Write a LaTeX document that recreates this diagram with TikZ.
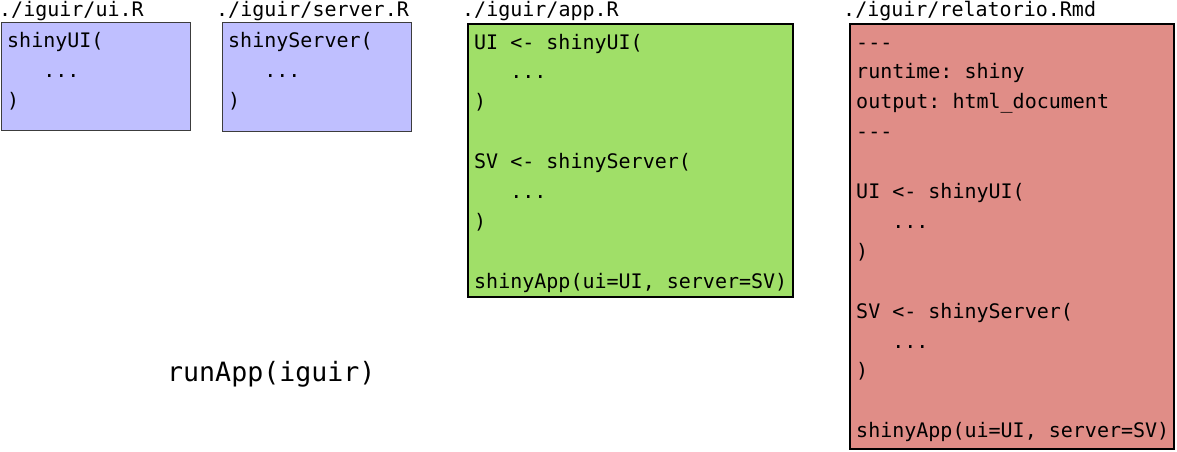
\documentclass[tikz,border=0pt]{standalone}
\usepackage{fontspec}
\setmonofont{DejaVu Sans Mono}
\definecolor{uiblue}{RGB}{191,191,255}
\definecolor{appgreen}{RGB}{160,223,104}
\definecolor{rmdred}{RGB}{224,141,135}
\definecolor{thinedge}{RGB}{60,60,60}
\newcommand\codesize{\ttfamily\fontsize{20}{29.9}\selectfont}
\newcommand\runsize{\ttfamily\fontsize{26.6}{32}\selectfont}
\newcommand\codeline[1]{\hbox{\strut #1}}
\tikzset{
  x=1pt, y=1pt,
  filebox/.style={anchor=north west, inner sep=0pt, outer sep=0pt},
  thinbox/.style={filebox, draw=thinedge, line width=1pt},
  thickbox/.style={filebox, draw=black, line width=2pt},
  code/.style={anchor=base west, inner sep=0pt, font=\codesize},
  filelabel/.style={anchor=base west, inner sep=0pt, font=\codesize},
}
\begin{document}
\begin{tikzpicture}
\useasboundingbox (0,0) rectangle (1177,-452);
% boxes
\node[thinbox, fill=uiblue, minimum width=189pt, minimum height=107pt] (ui) at (1,-23) {};
\node[thinbox, fill=uiblue, minimum width=189pt, minimum height=108pt] (server) at (222,-23) {};
\node[thickbox, fill=appgreen, minimum width=325pt, minimum height=273pt] (app) at (468,-24) {};
\node[thickbox, fill=rmdred, minimum width=324pt, minimum height=425pt] (rmd) at (850,-24) {};
% labels
\node[filelabel] (uilabel) at (-1,-17) {./iguir/ui.R};
\node[filelabel] (serverlabel) at (216,-17) {./iguir/server.R};
\node[filelabel] (applabel) at (462,-17) {./iguir/app.R};
\node[filelabel] (rmdlabel) at (843,-17) {./iguir/relatorio.Rmd};
% code
\node[code] (uicode) at (7,-48) {\vtop{%
  \codeline{shinyUI(}%
  \codeline{\ \ \ ...}%
  \codeline{)}}};
\node[code] (servercode) at (228,-48) {\vtop{%
  \codeline{shinyServer(}%
  \codeline{\ \ \ ...}%
  \codeline{)}}};
\node[code] (appcode) at (474,-49) {\vtop{%
  \codeline{UI <- shinyUI(}%
  \codeline{\ \ \ ...}%
  \codeline{)}%
  \codeline{}%
  \codeline{SV <- shinyServer(}%
  \codeline{\ \ \ ...}%
  \codeline{)}%
  \codeline{}%
  \codeline{shinyApp(ui=UI, server=SV)}}};
\node[code] (rmdcode) at (856,-49) {\vtop{%
  \codeline{-\kern0pt-\kern0pt-}%
  \codeline{runtime: shiny}%
  \codeline{output: html\_document}%
  \codeline{-\kern0pt-\kern0pt-}%
  \codeline{}%
  \codeline{UI <- shinyUI(}%
  \codeline{\ \ \ ...}%
  \codeline{)}%
  \codeline{}%
  \codeline{SV <- shinyServer(}%
  \codeline{\ \ \ ...}%
  \codeline{)}%
  \codeline{}%
  \codeline{shinyApp(ui=UI, server=SV)}}};
% runApp
\node[anchor=base west, inner sep=0pt, font=\runsize] (run) at (167,-381) {runApp(iguir)};
\end{tikzpicture}
\end{document}
